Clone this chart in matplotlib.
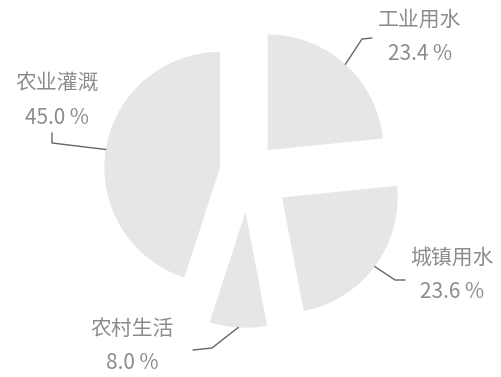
import numpy as np
import matplotlib
matplotlib.use("Agg")
import matplotlib.pyplot as plt

plt.rcParams['font.family'] = ['Noto Sans CJK SC', 'DejaVu Sans']

categories = ['工业用水', '城镇用水', '农村生活', '农业灌溉']
values = [23.4, 23.6, 8.0, 45.0]
pct_labels = ['23.4 %', '23.6 %', '8.0 %', '45.0 %']
explode = [0.25, 0.36, 0.34, 0.24]

W, H = 501, 377
S = 118.0  # pixels per unit radius
CX, CY = 248, 172

def p2d(x, y):
    return ((x - CX) / S, (CY - y) / S)

fig = plt.figure(figsize=(W / 100, H / 100), dpi=100)
ax = fig.add_axes([0, 0, 1, 1])

wedges, _ = ax.pie(values, startangle=90, counterclock=False, explode=explode,
                   radius=0.98, colors=['#e6e6e6'] * 4,
                   wedgeprops=dict(linewidth=0))
ax.set_xlim(-CX / S, (W - CX) / S)
ax.set_ylim(-(H - CY) / S, CY / S)
ax.set_aspect('equal', adjustable='box')
ax.axis('off')

# label layout (pixel positions): text centre, knee, end of leader line
label_pos = [(420, 37), (452, 275), (132, 346), (57, 101)]
knees = [(362, 39), (395, 280), (212, 348), (52, 143)]
ends = [(372, 38), (405, 280), (193, 350), (52, 133)]

for w, cat, pct, lp, kn, en in zip(wedges, categories, pct_labels, label_pos, knees, ends):
    mid = np.deg2rad((w.theta1 + w.theta2) / 2)
    cx, cy = w.center
    ax_pt = (cx + w.r * np.cos(mid), cy + w.r * np.sin(mid))
    k = p2d(*kn)
    e = p2d(*en)
    ax.plot([ax_pt[0], k[0], e[0]], [ax_pt[1], k[1], e[1]], color='#666666', lw=1.0,
            solid_capstyle='round')
    t = p2d(*lp)
    ax.text(t[0], t[1], cat + '\n' + pct, ha='center', va='center', fontsize=15,
            color='#8c8c8c', linespacing=1.7, fontweight='light')

fig.savefig('out.png', dpi=100, facecolor='white')
